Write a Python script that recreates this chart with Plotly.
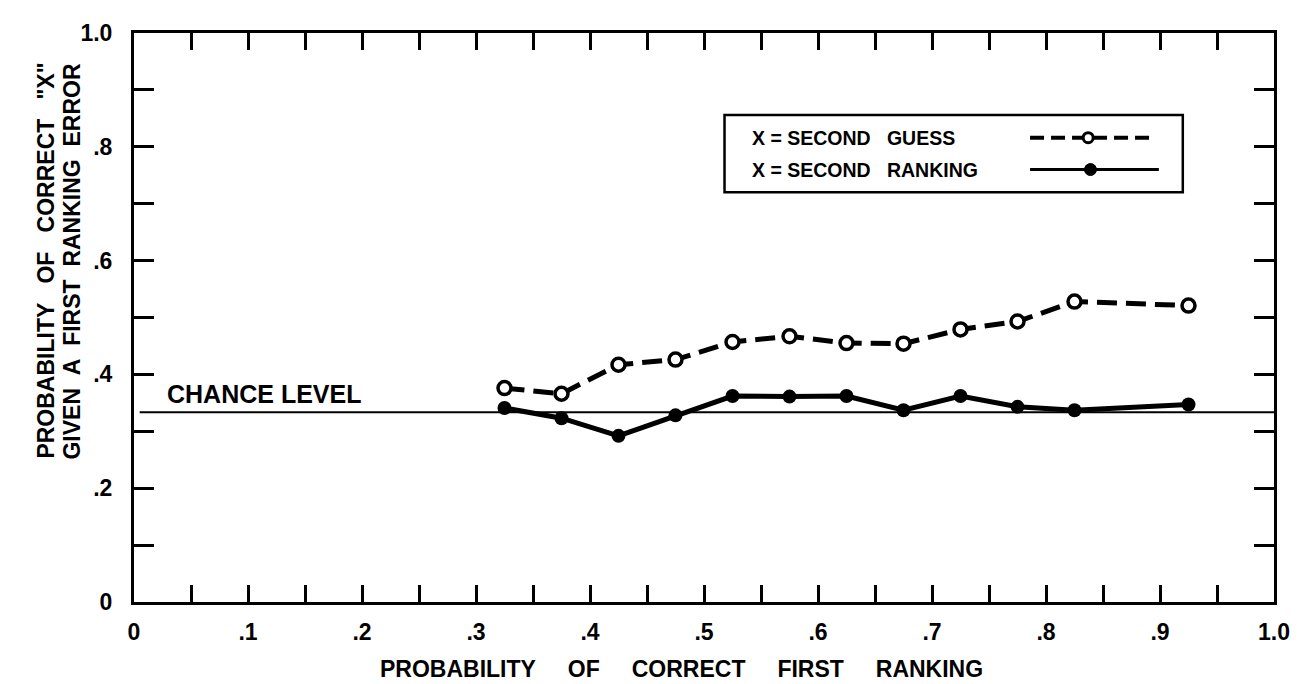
import plotly.graph_objects as go

# ---- data ----
p_first = [0.325, 0.375, 0.425, 0.475, 0.525, 0.575, 0.625, 0.675, 0.725, 0.775, 0.825, 0.925]
second_guess = [0.376, 0.366, 0.417, 0.426, 0.457, 0.467, 0.455, 0.454, 0.479, 0.493, 0.528, 0.521]
second_ranking = [0.341, 0.323, 0.292, 0.328, 0.362, 0.361, 0.362, 0.337, 0.362, 0.343, 0.337, 0.347]
chance_level = 1 / 3

x_tickvals = [0, 0.1, 0.2, 0.3, 0.4, 0.5, 0.6, 0.7, 0.8, 0.9, 1.0]
x_ticktext = ["0", ".1", ".2", ".3", ".4", ".5", ".6", ".7", ".8", ".9", "1.0"]
y_tickvals = [0, 0.2, 0.4, 0.6, 0.8, 1.0]
y_ticktext = ["0", ".2", ".4", ".6", ".8", "1.0"]

FONT = "Liberation Sans, Arial, sans-serif"
NB = "\u00a0"


def f(size):
    return dict(family=FONT, size=size, color="black", weight="bold")


fig = go.Figure()

fig.add_trace(go.Scatter(
    x=p_first, y=second_guess, mode="lines+markers",
    line=dict(color="black", width=5, dash="20px,9px"),
    marker=dict(symbol="circle", size=13, color="white",
                line=dict(color="black", width=3.5)),
    showlegend=False, cliponaxis=False))

fig.add_trace(go.Scatter(
    x=p_first, y=second_ranking, mode="lines+markers",
    line=dict(color="black", width=5),
    marker=dict(symbol="circle", size=14, color="black"),
    showlegend=False, cliponaxis=False))

# chance level line
fig.add_shape(type="line", xref="x", yref="y", x0=0.005, x1=1.0,
              y0=chance_level, y1=chance_level,
              line=dict(color="black", width=2), layer="below")
fig.add_annotation(x=0.027, y=chance_level, xref="x", yref="y",
                   text="CHANCE" + NB + "LEVEL", showarrow=False,
                   xanchor="left", yanchor="bottom", yshift=2,
                   font=f(25))

# legend box (drawn manually)
fig.add_shape(type="rect", xref="paper", yref="paper",
              x0=0.518, x1=0.920, y0=0.720, y1=0.856,
              line=dict(color="black", width=2.5), fillcolor="white")
fig.add_annotation(x=0.540, y=0.816, xref="paper", yref="paper",
                   text="X = SECOND" + NB * 3 + "GUESS", showarrow=False,
                   xanchor="left", yanchor="middle", font=f(19.5))
fig.add_annotation(x=0.540, y=0.760, xref="paper", yref="paper",
                   text="X = SECOND" + NB * 3 + "RANKING", showarrow=False,
                   xanchor="left", yanchor="middle", font=f(19.5))
fig.add_shape(type="line", xref="paper", yref="paper",
              x0=0.786, x1=0.896, y0=0.816, y1=0.816,
              line=dict(color="black", width=4, dash="14px,7px"))
fig.add_shape(type="circle", xref="paper", yref="paper",
              xsizemode="pixel", ysizemode="pixel",
              xanchor=0.837, yanchor=0.816, x0=-5, x1=5, y0=-5, y1=5,
              line=dict(color="black", width=3), fillcolor="white")
fig.add_shape(type="line", xref="paper", yref="paper",
              x0=0.786, x1=0.899, y0=0.760, y1=0.760,
              line=dict(color="black", width=3))
fig.add_shape(type="circle", xref="paper", yref="paper",
              xsizemode="pixel", ysizemode="pixel",
              xanchor=0.839, yanchor=0.760, x0=-6, x1=6, y0=-6, y1=6,
              line=dict(color="black", width=1), fillcolor="black")

# y-axis title (two lines, as two annotations)
fig.add_annotation(x=-0.0772, y=0.60, xref="paper", yref="paper",
                   text="PROBABILITY" + NB * 3 + "OF" + NB * 3 + "CORRECT" + NB * 3 + "\"X\"",
                   textangle=-90, showarrow=False,
                   xanchor="center", yanchor="middle", font=f(23))
fig.add_annotation(x=-0.0544, y=0.60, xref="paper", yref="paper",
                   text="GIVEN" + NB * 2 + "A" + NB * 2 + "FIRST" + NB * 2 + "RANKING" + NB * 2 + "ERROR",
                   textangle=-90, showarrow=False,
                   xanchor="center", yanchor="middle", font=f(23))

# x-axis title
fig.add_annotation(x=0.48, y=-0.118, xref="paper", yref="paper",
                   text="PROBABILITY" + NB * 5 + "OF" + NB * 5 + "CORRECT" + NB * 5 +
                        "FIRST" + NB * 5 + "RANKING",
                   showarrow=False, xanchor="center", yanchor="middle",
                   font=f(23))

axis_common = dict(showgrid=False, zeroline=False, showline=True,
                   linecolor="black", linewidth=3, mirror="allticks",
                   ticks="inside", tickcolor="black", tickwidth=2.5,
                   tickfont=f(23))

fig.update_xaxes(range=[0, 1.0], tickvals=x_tickvals, ticktext=x_ticktext,
                 ticklen=17,
                 minor=dict(dtick=0.05, tick0=0, ticks="inside", ticklen=17,
                            tickcolor="black", tickwidth=2.5),
                 ticklabelstandoff=7,
                 **axis_common)
fig.update_yaxes(range=[0, 1.0], tickvals=y_tickvals, ticktext=y_ticktext,
                 ticklen=20,
                 minor=dict(dtick=0.1, tick0=0, ticks="inside", ticklen=20,
                            tickcolor="black", tickwidth=2.5),
                 ticklabelstandoff=14,
                 **axis_common)

fig.update_layout(width=1298, height=684,
                  margin=dict(l=126, r=32, t=23, b=90),
                  paper_bgcolor="white", plot_bgcolor="white",
                  showlegend=False)

fig.write_html("out.html")
